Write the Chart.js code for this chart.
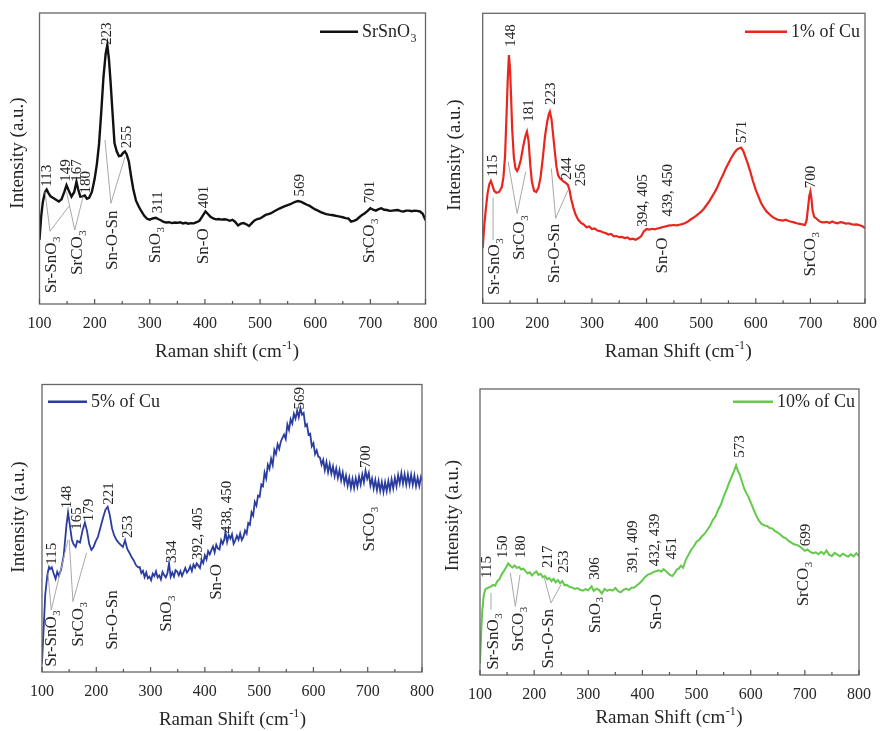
<!DOCTYPE html>
<html><head><meta charset="utf-8">
<script src="https://cdn.jsdelivr.net/npm/chart.js@4/dist/chart.umd.min.js"></script>
<style>
body{margin:0;background:#fff;width:880px;height:731px;position:relative;overflow:hidden}
canvas{position:absolute;display:block}
</style></head><body>
<canvas id="c1" width="440" height="370" style="left:0;top:0"></canvas>
<canvas id="c2" width="440" height="370" style="left:440px;top:0"></canvas>
<canvas id="c3" width="440" height="361" style="left:0;top:370px"></canvas>
<canvas id="c4" width="440" height="361" style="left:440px;top:370px"></canvas>
<script>
// ---------- DATA ----------
const xTicks = [100,200,300,400,500,600,700,800];
const minorTicks = [150,250,350,450,550,650,750];

// SrSnO3
const shift1 = [100,103,106,110,113,116,120,125,130,135,140,145,149,153,158,163,167,170,174,178,182,186,190,195,200,204,208,212,216,220,223,226,229,232,236,240,244,248,252,255,258,262,266,270,275,280,285,290,295,300,305,311,315,320,325,330,335,340,345,350,355,360,365,370,375,380,385,390,395,401,405,410,415,420,425,430,435,440,445,450,455,460,465,470,475,480,485,490,495,500,505,510,515,520,525,530,535,540,545,550,555,560,565,569,575,580,585,590,595,600,605,610,615,620,625,630,635,640,645,650,655,660,665,670,675,680,685,690,695,700,705,710,715,720,725,730,735,740,745,750,755,760,765,770,775,780,785,790,795,800];
const int1 = [22,30,35,38.5,39.3,38.2,37,36.4,35.8,35.2,36,38.5,40.8,39,36.9,38.5,42,39.5,36.9,37,37.3,36.2,36.5,38.5,43,48,55,66,78,86,89,84,76,67,55.3,52.5,50.8,51,52,52.4,51.5,49,44,39.5,35.5,33.5,31.8,30.3,29.3,29,29.4,29.6,29.2,28.8,28.2,28,28.1,27.8,28,27.9,28.1,27.7,27.9,27.6,27.8,27.7,28.1,28.6,30,31.8,31,30,29.4,29.1,29.2,29,29.1,29,28.6,28.9,28.2,27,27.6,27.8,27.4,26.8,27.8,28.7,29.2,29.4,30,30.6,30.9,31.2,31.8,32.3,32.8,33.2,33.6,34,34.3,34.8,35.2,35.4,35.1,34.6,34.1,33.7,33.1,32.5,32.1,31.6,31.2,30.9,30.7,30.6,30.4,30.2,30,29.8,29.5,29.4,28.3,28.6,29,29.8,30.6,31.2,32,32.9,32.4,32.1,32.6,32.9,32.4,32.3,32,32.1,32.2,32.3,31.9,31.8,32.1,32.1,31.9,32.1,32,31.8,31,28.8];

// 1% of Cu
const shift2 = [100,103,106,109,112,115,118,121,125,130,135,138,141,144,146,148,150,152,154,157,160,163,166,170,174,178,181,184,187,190,194,198,202,206,210,214,218,221,223,226,229,232,235,238,241,244,248,252,256,259,262,266,270,275,280,285,290,295,300,305,310,315,320,325,330,335,340,345,350,355,360,365,370,375,380,385,390,395,400,405,410,415,420,425,430,435,440,445,450,455,460,465,470,475,480,485,490,495,500,505,510,515,520,525,530,535,540,545,550,555,560,565,569,573,577,581,585,590,595,600,605,610,615,620,625,630,635,640,645,650,655,660,665,670,675,680,685,690,693,696,698,700,702,704,707,710,715,720,725,730,735,740,745,750,755,760,765,770,775,780,785,790,795,800];
const int2 = [19,27,33,38,41,42.2,40.5,38.8,38.1,38.4,40.1,43.5,51,67,78,85.6,81,71,60,50.5,46.5,45.6,46.8,49.7,54,57.5,59.2,56,48,42,38.8,38.4,39.8,43.5,50,57.5,62.5,65.2,66.1,63.5,58,52.5,47.2,44.2,43.2,42.7,42,41.5,40.8,39,36,33,30.6,28.8,27.7,27.2,26.2,26.5,25.6,25.8,25.1,24.9,24.5,24.2,23.7,23.9,23.1,23.2,22.8,22.9,22.5,22.7,22.1,22.3,21.9,22.4,23.1,24.8,25.6,25.4,25.7,25.5,25.8,26,26.3,26.5,26.8,26.9,27,26.9,27.1,27.3,27.6,28.1,28.8,29.4,30.1,30.8,31.6,32.6,33.9,35.2,36.8,38.4,40.2,42.4,44.3,46.5,48.3,50.1,51.7,52.9,53.4,53.7,52.6,50.5,48.3,45.4,42,39.1,36.8,34.5,32.9,31.6,30.7,29.9,29.3,28.8,28.7,28.5,28.8,28.4,28.1,27.9,27.6,27.4,27.2,27,28.5,33.5,37,38.5,36,32,29.8,29.4,28.5,28,27.9,28.1,27.7,28.2,27.8,27.6,28,27.8,27.5,27.6,27.3,27.1,27.2,26.9,26.6,25.9];

// 5% of Cu
const shift3 = [100,103,106,110,113,115,118,121,125,128,131,135,140,145,148,151,155,158,162,165,170,175,179,183,187,191,195,199,203,208,213,217,221,225,229,233,237,241,245,249,253,257,261,265,269,273,277,
280,283,286,289,292,295,298,301,304,307,310,313,316,319,322,325,328,331,334,337,340,343,346,349,352,355,358,361,364,367,370,373,376,379,382,385,388,391,394,397,400,403,406,409,412,415,418,421,424,427,430,433,436,438,441,444,447,450,453,456,459,462,465,468,471,474,477,480,483,486,489,492,495,498,501,504,507,510,513,516,519,522,525,528,531,534,537,540,543,546,549,552,555,558,561,564,567,570,573,576,579,582,585,588,591,594,597,600,603,606,609,612,615,618,621,624,627,630,633,636,639,642,645,648,651,654,657,660,663,666,669,672,675,678,681,684,687,690,693,696,699,702,705,708,711,714,717,720,723,726,729,732,735,738,741,744,747,750,753,756,759,762,765,768,771,774,777,780,783,786,789,792,795,798,800];
const int3 = [3,15,27,34,36.5,35.8,36.4,34.5,32.4,34.8,33.5,35.5,40.5,51,55.5,51.5,46,44.5,43.5,45.6,45,49.5,52,49,44.5,42.5,43.5,45.5,47,50.5,54,56.5,57.5,54.5,50,47.5,46,45,44.2,43.5,45.8,42.8,41.5,40,38.8,37.2,36.4,
36.5,34.4,35.2,33.0,34.6,32.6,33.2,31.9,34.2,33.4,35.0,32.9,33.6,32.2,34.8,33.7,32.9,34.3,37.8,33.1,34.6,33.2,35.4,34.9,33.6,35.1,33.4,34.8,36.2,34.6,35.4,36.8,35.1,37.4,36.3,37.8,37.0,36.2,39.0,37.9,40.6,39.2,42.0,40.9,42.4,43.7,41.6,44.3,43.0,42.6,45.9,44.6,46.2,48.8,45.2,47.6,46.4,47.9,44.6,45.8,47.4,46.0,48.2,45.9,47.0,49.2,48.1,51.8,51.2,55.6,54.4,59.2,57.9,61.4,61.0,65.2,64.6,69.4,67.3,72.1,70.6,74.2,72.0,77.3,75.8,79.2,77.6,80.2,81.4,82.6,81.0,86.1,84.2,87.9,86.4,89.8,88.1,90.9,88.6,91.8,89.5,90.1,85.6,86.2,82.6,82.9,78.5,79.6,75.8,77.1,74.9,74.6,72.1,73.8,70.2,73.0,69.5,72.3,69.0,71.5,68.1,70.8,67.5,70.2,66.7,69.4,65.7,68.3,64.8,67.6,64.0,67.2,64.0,67.4,64.5,68.0,65.2,68.7,66.0,70.0,67.2,69.2,64.9,67.3,63.8,66.8,63.3,66.5,63.0,66.1,62.6,66.0,62.9,66.4,63.3,67.0,63.9,67.5,64.6,68.5,65.6,69.2,65.5,68.8,65.2,68.7,65.3,68.6,65.1,68.3,64.6,67.6,64.7,67.8,66.5];

// 10% of Cu
const shift4 = [100,102,104,107,110,115,120,124,128,132,136,140,144,148,152,156,160,164,168,172,176,180,184,188,192,196,200,204,208,212,216,220,224,228,232,236,240,244,248,252,256,260,265,270,275,280,285,290,295,300,306,310,315,320,325,330,335,340,345,350,355,360,365,370,375,380,385,390,395,400,405,410,415,420,425,430,435,439,443,447,451,455,459,463,467,471,475,480,485,490,495,500,505,510,515,520,525,530,535,540,545,550,555,560,565,569,573,576,580,584,588,592,596,600,605,610,615,620,625,630,635,640,645,650,655,660,665,670,675,680,685,690,695,700,705,710,715,720,725,730,735,740,745,750,755,760,765,770,775,780,785,790,795,800];
const int4 = [4,14,22,28,30,30.5,30.9,31.5,31.2,32.8,33.5,35.2,36.3,37.6,39,38.2,37.6,38.3,37.4,37.8,36.9,37.2,36.3,35.5,35.9,34.8,35.6,36.2,35,35.4,34.2,34.6,33.5,33.9,32.8,33.6,32.4,33.2,32.1,32.8,31.4,31.5,30.8,30.6,30.1,30.4,29.8,29.5,30,29.6,31,29.4,30.2,29.7,28.5,30.1,29.4,29.9,29.5,30.4,29.3,28.9,29.8,30.2,29.7,30.5,30.6,31.4,32.2,33.1,34.3,35.1,35.4,36,36.3,36.6,36.2,37,36.4,35.6,35,34.6,35.4,36.8,37.2,38.2,37.5,40.2,42,43.8,45,46.6,47.3,48.5,49.4,50.8,52.2,54.2,55.5,57.8,59.6,62.4,64.6,67.2,69.4,71.2,73.3,71.5,70,67.5,65.2,63.6,62.2,60.4,58,55.8,54,52.8,52.3,52.1,51.4,51.2,50.3,49.8,49,48.2,47.8,46.9,46.3,45.7,45.5,45,44.2,43.4,43.9,43,42.6,42.9,42.2,43.1,42.3,43.5,42,41.6,42.7,42.1,41.5,42.4,41.8,41.4,42.2,41.5,42.6,41.6];

// Peak labels [text, wavenumber, intensity]
const peaks1 = [['113',113,40.3],['149',147.5,42],['167',168.5,42],['180',184,38],['223',223,89],['255',258,53.5],['311',315,31.2],['401',398,32.9],['569',572,36.9],['701',698.6,34.6]];
const peaks2 = [['115',119.3,43.7],['148',151.5,88.5],['181',185,62.6],['223',225.6,68.4],['244',254.8,42.5],['256',280,40.4],['394, 405',393.8,26.4],['439, 450',440,29.9],['571',574.7,55.2],['700',701,39.7]];
const peaks3 = [['115',117.8,37.3],['148',145.5,57],['165',165,49.5],['179',187,52.4],['221',224,58.2],['253',257.8,46.6],['334',338.8,37.9],['392, 405',387.8,39],['438, 450',440.2,48.3],['569',575,91.3],['700',696.7,71]];
const peaks4 = [['115',112.3,33.9],['150',143,40.9],['180',175.2,40.9],['217',226.3,37.4],['253',255.3,35.7],['306',312.6,33.3],['391, 409',383.4,35.7],['432, 439',423.5,38],['451',454.3,40.4],['573',580.6,76],['699',702.6,45]];

// Mode labels [text, wavenumber, intensity]  ("_" marks subscript)
const modes1 = [['Sr-SnO_3',122,3.7],['SrCO_3',168.5,10],['Sn-O-Sn',232,11.7],['SnO_3',310.5,14],['Sn-O',398,13.7],['SrCO_3',698.6,14]];
const modes2 = [['Sr-SnO_3',122.4,2.9],['SrCO_3',168,14.9],['Sn-O-Sn',231.7,6.9],['Sn-O',429,10.3],['SrCO_3',701,9.2]];
const modes3 = [['Sr-SnO_3',117.8,1.8],['SrCO_3',166.9,8.8],['Sn-O-Sn',230,7.7],['SnO_3',329.6,14],['Sn-O',421.7,25.1],['SrCO_3',702.8,41.9]];
const modes4 = [['Sr-SnO_3',124.6,1.8],['SrCO_3',172,8.2],['Sn-O-Sn',226.3,2.3],['SnO_3',312.6,14.6],['Sn-O',426.6,15.8],['SrCO_3',697.6,24]];

// Leader lines [x1,y1,x2,y2] in data units
const leaders1 = [[119,25,110,38.6],[119,25,155,34],[164,25.4,149,38.6],[164,25.4,179,36.9],[229.5,34.6,218.7,56.4],[229.5,34.6,255,50.6]];
const leaders2 = [[119,21.8,119,36.5],[163,31,146.6,48.8],[163,31,178.9,45.4],[233.5,29.3,225.7,46.5],[233.5,29.3,256,39]];
const leaders3 = [[117,21.6,111,34.4],[117,21.6,148,46],[157,24.5,150,46],[157,24.5,182,41.4]];
const leaders4 = [[120.3,22.8,120.3,28.7],[165.3,24,156,35.7],[165.3,24,174,35.1],[231.2,25.2,218.9,33.9],[231.2,25.2,249.7,31.6]];

// ---------- DRAWING ----------
const FONT = '"Liberation Serif", "Times New Roman", serif';

function drawSubText(ctx, text, size) {
  const parts = text.split('_');
  ctx.font = size + 'px ' + FONT;
  ctx.fillText(parts[0], 0, 0);
  if (parts[1]) {
    const w = ctx.measureText(parts[0]).width;
    ctx.font = Math.round(size * 0.66) + 'px ' + FONT;
    ctx.fillText(parts[1], w + 0.5, size * 0.32);
  }
}

function makeChart(id, opt) {
  const canvas = document.getElementById(id);
  const W = canvas.width, H = canvas.height;
  const deco = {
    id: 'deco',
    afterDatasetsDraw(chart) {
      const ctx = chart.ctx, a = chart.chartArea, xs = chart.scales.x, ys = chart.scales.y;
      ctx.save();
      if (opt.xs.length !== opt.ys.length) { ctx.fillStyle = 'red'; ctx.font = '20px sans-serif'; ctx.fillText('LEN ' + opt.xs.length + ' ' + opt.ys.length, a.left + 20, a.top + 60); }
      // leader lines
      ctx.strokeStyle = '#a8a8a8'; ctx.lineWidth = 1;
      for (const l of opt.leaders) {
        ctx.beginPath();
        ctx.moveTo(xs.getPixelForValue(l[0]), ys.getPixelForValue(l[1]));
        ctx.lineTo(xs.getPixelForValue(l[2]), ys.getPixelForValue(l[3]));
        ctx.stroke();
      }
      // frame
      ctx.strokeStyle = '#666'; ctx.lineWidth = 1.3;
      ctx.strokeRect(a.left, a.top, a.right - a.left, a.bottom - a.top);
      // inward ticks
      ctx.strokeStyle = '#555'; ctx.lineWidth = 1.2;
      for (const v of xTicks) { const p = xs.getPixelForValue(v); ctx.beginPath(); ctx.moveTo(p, a.bottom); ctx.lineTo(p, a.bottom - 5); ctx.stroke(); }
      for (const v of minorTicks) { const p = xs.getPixelForValue(v); ctx.beginPath(); ctx.moveTo(p, a.bottom); ctx.lineTo(p, a.bottom - 3); ctx.stroke(); }
      // rotated labels
      ctx.fillStyle = '#262626';
      ctx.textAlign = 'left'; ctx.textBaseline = 'middle';
      for (const p of opt.peaks) {
        ctx.save(); ctx.translate(xs.getPixelForValue(p[1]), ys.getPixelForValue(p[2])); ctx.rotate(-Math.PI / 2);
        drawSubText(ctx, p[0], 15); ctx.restore();
      }
      for (const p of opt.modes) {
        ctx.save(); ctx.translate(xs.getPixelForValue(p[1]), ys.getPixelForValue(p[2])); ctx.rotate(-Math.PI / 2);
        drawSubText(ctx, p[0], 17); ctx.restore();
      }
      // legend
      const lg = opt.legend;
      ctx.strokeStyle = opt.color; ctx.lineWidth = 2.5;
      ctx.beginPath(); ctx.moveTo(lg.x1, lg.y); ctx.lineTo(lg.x2, lg.y); ctx.stroke();
      ctx.save(); ctx.translate(lg.x2 + 4, lg.y + 1); ctx.fillStyle = '#262626';
      drawSubText(ctx, opt.label, 18); ctx.restore();
      // x title
      ctx.fillStyle = '#262626';
      ctx.font = '19px ' + FONT;
      const t1 = opt.xTitle + ' (cm', t3 = ')';
      const w1 = ctx.measureText(t1).width, w3 = ctx.measureText(t3).width;
      ctx.font = '12px ' + FONT; const w2 = ctx.measureText('-1').width;
      const cx = (a.left + a.right) / 2 + (opt.xtDx || 0), ty = a.bottom + opt.xtDy;
      let sx = cx - (w1 + w2 + w3) / 2;
      ctx.textAlign = 'left'; ctx.textBaseline = 'middle';
      ctx.font = '19px ' + FONT; ctx.fillText(t1, sx, ty);
      ctx.font = '12px ' + FONT; ctx.fillText('-1', sx + w1 + 0.5, ty - 6);
      ctx.font = '19px ' + FONT; ctx.fillText(t3, sx + w1 + w2 + 1, ty);
      // y title
      ctx.save(); ctx.translate(opt.ytX, opt.ytY); ctx.rotate(-Math.PI / 2);
      ctx.textAlign = 'center'; ctx.fillText('Intensity (a.u.)', 0, 0); ctx.restore();
      ctx.restore();
    }
  };
  return new Chart(canvas, {
    type: 'line',
    data: { datasets: [{ label: opt.label, data: opt.xs.map((x, i) => ({ x: x, y: opt.ys[i] })), borderColor: opt.color, borderWidth: opt.lw || 2, pointRadius: 0, fill: false, tension: 0 }] },
    options: {
      responsive: false, animation: false, events: [],
      layout: { padding: { left: opt.L, right: W - opt.R, top: opt.T, bottom: 0 } },
      plugins: { legend: { display: false }, tooltip: { enabled: false } },
      scales: {
        x: { type: 'linear', min: 100, max: 800,
             afterFit: s => { s.height = H - opt.B; },
             afterBuildTicks: s => { s.ticks = xTicks.map(v => ({ value: v })); },
             grid: { display: false }, border: { display: false },
             ticks: { color: '#262626', padding: opt.tp, font: { family: FONT, size: 16 }, maxRotation: 0, autoSkip: false } },
        y: { display: false, min: 0, max: 100 }
      }
    },
    plugins: [deco]
  });
}

makeChart('c1', { xs: shift1, ys: int1, color: '#111111', lw: 2.4, label: 'SrSnO_3', L: 39.5, R: 426, T: 13, B: 304, tp: 2.5,
  xTitle: 'Raman shift', xtDy: 48, xtDx: -6, ytX: 18.5, ytY: 153,
  legend: { x1: 320, x2: 358, y: 31.7 }, peaks: peaks1, modes: modes1, leaders: leaders1 });
makeChart('c2', { xs: shift2, ys: int2, color: '#e8261e', lw: 2.2, label: '1% of Cu', L: 42.7, R: 427, T: 13.3, B: 303.3, tp: 3,
  xTitle: 'Raman Shift', xtDy: 48.5, xtDx: 4, ytX: 15.5, ytY: 155,
  legend: { x1: 305, x2: 347, y: 31.7 }, peaks: peaks2, modes: modes2, leaders: leaders2 });
makeChart('c3', { xs: shift3, ys: int3, color: '#2b3c9f', lw: 1.8, label: '5% of Cu', L: 42, R: 422, T: 14.5, B: 302, tp: 2,
  xTitle: 'Raman Shift', xtDy: 48, xtDx: 0, ytX: 19, ytY: 147,
  legend: { x1: 48, x2: 87, y: 31.7 }, peaks: peaks3, modes: modes3, leaders: leaders3 });
makeChart('c4', { xs: shift4, ys: int4, color: '#62c94a', lw: 2, label: '10% of Cu', L: 40, R: 419, T: 19, B: 305, tp: 2,
  xTitle: 'Raman Shift', xtDy: 43, xtDx: -1, ytX: 13.3, ytY: 145.5,
  legend: { x1: 293, x2: 333, y: 31.7 }, peaks: peaks4, modes: modes4, leaders: leaders4 });
</script>
</body></html>
